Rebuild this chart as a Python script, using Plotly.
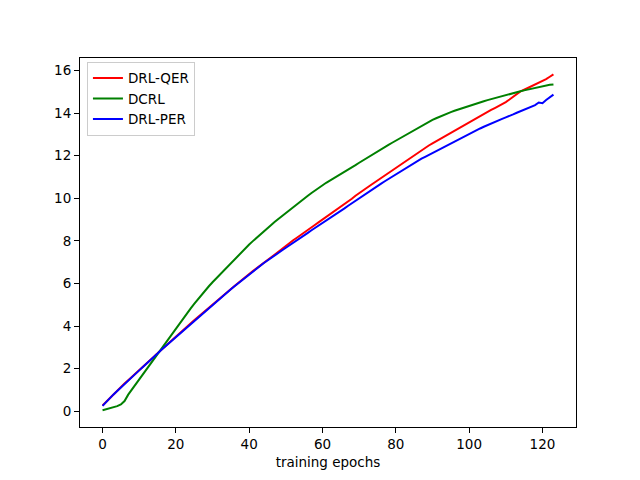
import plotly.graph_objects as go

epochs = list(range(124))

drl_qer = [0.27, 0.45, 0.62, 0.79, 0.96, 1.13, 1.30, 1.46, 1.61, 1.77,
           1.92, 2.08, 2.24, 2.40, 2.56, 2.72, 2.88, 3.04, 3.20, 3.36,
           3.52, 3.67, 3.82, 3.97, 4.12, 4.27, 4.42, 4.57, 4.72, 4.87,
           5.02, 5.16, 5.31, 5.45, 5.60, 5.74, 5.88, 6.02, 6.17, 6.31,
           6.45, 6.58, 6.71, 6.85, 6.98, 7.10, 7.23, 7.36, 7.50, 7.64,
           7.78, 7.90, 8.03, 8.15, 8.28, 8.40, 8.52, 8.64, 8.76, 8.88,
           9.00, 9.11, 9.23, 9.36, 9.48, 9.60, 9.72, 9.85, 9.98, 10.12,
           10.25, 10.36, 10.48, 10.60, 10.72, 10.84, 10.96, 11.08, 11.20, 11.32,
           11.44, 11.56, 11.68, 11.80, 11.92, 12.03, 12.15, 12.26, 12.37, 12.48,
           12.58, 12.68, 12.78, 12.88, 12.98, 13.08, 13.18, 13.28, 13.38, 13.48,
           13.58, 13.68, 13.78, 13.88, 13.97, 14.06, 14.15, 14.24, 14.33, 14.42,
           14.52, 14.64, 14.78, 14.92, 15.02, 15.10, 15.18, 15.26, 15.34, 15.42,
           15.50, 15.60, 15.71, 15.82]

dcrl = [0.05, 0.09, 0.13, 0.18, 0.24, 0.32, 0.48, 0.78, 1.02, 1.23,
        1.46, 1.70, 1.95, 2.20, 2.45, 2.70, 2.95, 3.19, 3.43, 3.67,
        3.91, 4.14, 4.37, 4.60, 4.82, 5.04, 5.26, 5.47, 5.67, 5.87,
        6.06, 6.24, 6.42, 6.60, 6.79, 6.97, 7.15, 7.32, 7.49, 7.66,
        7.83, 7.99, 8.15, 8.30, 8.45, 8.60, 8.75, 8.90, 9.04, 9.18,
        9.32, 9.46, 9.60, 9.73, 9.86, 9.99, 10.12, 10.25, 10.38, 10.50,
        10.62, 10.73, 10.83, 10.93, 11.03, 11.13, 11.24, 11.35, 11.46, 11.56,
        11.67, 11.78, 11.89, 12.00, 12.11, 12.21, 12.31, 12.41, 12.51, 12.61,
        12.71, 12.81, 12.91, 13.01, 13.11, 13.21, 13.31, 13.41, 13.51, 13.60,
        13.68, 13.76, 13.84, 13.91, 13.98, 14.05, 14.11, 14.17, 14.23, 14.29,
        14.35, 14.41, 14.46, 14.51, 14.56, 14.61, 14.66, 14.71, 14.76, 14.81,
        14.86, 14.91, 14.95, 14.99, 15.03, 15.07, 15.11, 15.15, 15.19, 15.23,
        15.27, 15.30, 15.33, 15.35]

drl_per = [0.25, 0.44, 0.61, 0.79, 0.95, 1.12, 1.29, 1.46, 1.61, 1.76,
           1.92, 2.08, 2.23, 2.39, 2.56, 2.71, 2.88, 3.03, 3.19, 3.35,
           3.51, 3.66, 3.82, 3.96, 4.11, 4.27, 4.41, 4.56, 4.71, 4.86,
           5.01, 5.15, 5.30, 5.44, 5.59, 5.73, 5.87, 6.01, 6.16, 6.30,
           6.44, 6.57, 6.70, 6.83, 6.96, 7.08, 7.19, 7.31, 7.43, 7.56,
           7.68, 7.79, 7.91, 8.03, 8.14, 8.26, 8.38, 8.50, 8.61, 8.73,
           8.84, 8.96, 9.08, 9.19, 9.30, 9.41, 9.53, 9.65, 9.77, 9.89,
           10.00, 10.12, 10.24, 10.35, 10.46, 10.58, 10.69, 10.80, 10.91, 11.02,
           11.13, 11.24, 11.35, 11.46, 11.56, 11.66, 11.76, 11.86, 11.95, 12.04,
           12.13, 12.22, 12.31, 12.40, 12.50, 12.59, 12.68, 12.77, 12.86, 12.95,
           13.04, 13.12, 13.20, 13.28, 13.36, 13.44, 13.51, 13.58, 13.66, 13.73,
           13.80, 13.86, 13.94, 14.02, 14.09, 14.16, 14.24, 14.32, 14.38, 14.50,
           14.47, 14.62, 14.75, 14.87]

series = [("DRL-QER", drl_qer, "#ff0000"),
          ("DCRL", dcrl, "#008000"),
          ("DRL-PER", drl_per, "#0000ff")]

x_ticks = [0, 20, 40, 60, 80, 100, 120]
y_ticks = [0, 2, 4, 6, 8, 10, 12, 14, 16]

fig = go.Figure()
for name, vals, color in series:
    fig.add_trace(go.Scatter(x=epochs, y=vals, mode="lines", name=name,
                             line=dict(color=color, width=2)))

font = dict(family="DejaVu Sans", size=13.5, color="black")
axis_common = dict(showgrid=False, zeroline=False, showline=True, linecolor="black",
                   linewidth=1, mirror=True, ticks="outside", ticklen=5,
                   tickcolor="black", tickwidth=1, tickfont=font)

fig.update_layout(
    width=640, height=480,
    margin=dict(l=72, r=72, t=50, b=61),
    paper_bgcolor="white", plot_bgcolor="white",
    font=font,
    showlegend=True,
    legend=dict(x=0.014, y=0.99, xanchor="left", yanchor="top",
                bgcolor="rgba(255,255,255,0.8)", bordercolor="#cccccc",
                borderwidth=1, font=font, itemwidth=30,
                tracegroupgap=0),
    xaxis=dict(range=[-6.15, 129.15], tickvals=x_ticks,
               title=dict(text="training epochs", font=font, standoff=6),
               **axis_common),
    yaxis=dict(range=[-0.74, 16.59], tickvals=y_ticks, **axis_common),
)

fig.write_html("out.html")
